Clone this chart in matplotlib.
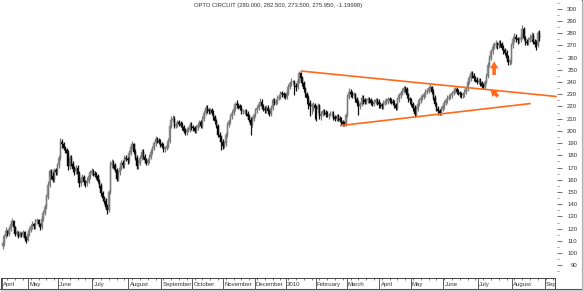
import matplotlib
matplotlib.use("Agg")
import matplotlib.pyplot as plt
from matplotlib.lines import Line2D
import numpy as np

plt.rcParams['font.family'] = ['Liberation Sans', 'DejaVu Sans']

title = "OPTO CIRCUIT (280.000, 282.500, 273.500, 275.950, -1.19998)"
first_open = 106

# ---- daily closes / highs / lows, one list per month ----
apr09_c = [108,114,118,116,120,124,126,121,116,117,114,116,115,117,112,111,116]
apr09_h = [110,116,121,119,122,126,129,127,122,119,118,118,117,119,118,114,118]
apr09_l = [103,106,112,114,114,118,122,119,114,114,112,113,113,113,110,108,110]

may09_c = [119,122,124,122,126,127,124,121,128,133,138,146,156,167,163,160,168,166,172]
may09_h = [121,124,126,125,128,129,128,125,130,135,140,148,159,169,169,166,170,170,174]
may09_l = [114,117,120,120,120,124,122,119,120,126,131,136,144,154,161,158,158,164,164]

jun09_c = [178,191,189,186,184,182,171,178,173,169,167,170,165,157,160,162,158,157,159,163,166,167]
jun09_h = [180,194,193,191,188,186,184,180,180,175,171,172,172,167,162,165,164,160,162,165,168,170]
jun09_l = [170,176,186,184,182,179,168,169,171,166,164,165,163,154,155,158,156,154,155,157,161,164]

jul09_c = [165,164,163,159,155,149,145,143,138,135,150,172,174,172,168,161,166,170,174,172,178,177,176]
jul09_h = [169,167,166,165,161,157,151,147,145,140,152,175,177,176,174,170,168,172,176,176,180,180,179]
jul09_l = [163,162,161,157,153,147,143,140,136,132,134,148,170,170,166,159,159,164,168,170,170,175,173]

aug09_c = [182,187,189,183,178,171,174,178,183,179,176,174,176,179,183,186,190,193,192,191,189]
aug09_h = [184,189,192,190,185,180,176,180,185,185,181,178,178,181,185,188,192,196,195,194,193]
aug09_l = [174,180,185,181,176,169,169,172,176,177,174,172,172,174,177,181,184,188,190,189,187]

sep09_c = [188,185,186,188,192,204,209,210,204,205,207,206,205,203,200,199,201,201,205,203]
sep09_h = [191,190,188,190,194,206,212,213,212,207,209,209,208,207,205,202,203,203,207,207]
sep09_l = [186,183,183,184,186,190,202,207,202,202,203,204,203,201,198,197,197,199,199,201]

oct09_c = [202,200,203,205,207,204,210,215,219,217,216,217,215,211,208,204,197,195,191,188]
oct09_h = [205,204,205,207,209,209,212,217,221,221,219,219,219,217,213,210,206,199,197,193]
oct09_l = [200,198,198,201,203,202,202,208,213,215,214,214,213,209,206,202,195,192,184,185]

nov09_c = [190,197,205,208,212,215,218,222,221,220,219,216,216,216,214,212,209,205,210,213]
nov09_h = [192,199,207,210,214,217,220,224,225,223,222,221,218,218,218,216,214,211,212,215]
nov09_l = [186,188,195,203,206,210,213,216,219,218,217,214,214,214,212,210,207,197,203,208]

dec09_c = [217,219,222,224,220,218,217,219,216,214,219,225,223,224,227,228,231,230,229,228]
dec09_h = [219,221,224,227,226,222,220,221,221,218,221,227,227,226,229,230,233,233,232,231]
dec09_l = [211,215,217,220,218,216,215,215,214,212,212,217,221,221,222,225,226,228,227,226]

jan10_c = [231,236,239,240,240,237,236,241,247,243,239,234,230,227,223,220,221,221,219]
jan10_h = [233,238,241,243,242,242,239,243,249,248,245,241,236,232,229,225,223,224,223]
jan10_l = [226,229,234,237,238,229,233,234,239,241,237,232,228,222,218,212,214,216,210]

feb10_c = [218,220,212,214,216,215,214,213,213,214,214,211,210,212,210,209,207,206,205,213]
feb10_h = [221,223,222,216,218,218,217,216,215,216,216,216,213,214,214,212,211,209,208,215]
feb10_l = [208,215,210,209,212,213,211,211,210,212,211,209,208,208,208,207,205,204,204,204]

mar10_c = [228,232,230,229,230,226,223,220,222,227,225,224,225,226,225,223,222,224,225,224,222]
mar10_h = [230,235,234,233,232,231,228,225,224,229,229,227,227,228,228,227,225,226,227,227,226]
mar10_l = [211,226,228,227,227,224,220,213,218,220,222,222,222,223,223,221,220,220,222,221,219]

apr10_c = [221,220,223,224,224,226,225,224,223,221,219,226,229,231,233,235,234,229,226,225]
apr10_h = [224,223,225,226,227,228,228,227,226,225,223,228,231,233,235,237,237,236,231,228]
apr10_l = [219,218,218,221,222,222,223,222,221,219,217,217,224,227,229,231,232,227,224,222]

may10_c = [222,219,214,218,222,225,227,228,230,232,233,235,236,232,227,222,218,216,215,218,220]
may10_h = [227,224,221,220,224,227,229,230,232,234,235,237,238,237,234,229,224,220,218,220,222]
may10_l = [220,216,211,212,216,220,223,225,226,228,230,231,233,230,225,220,216,213,213,213,216]

jun10_c = [223,225,227,228,229,231,233,234,232,231,230,229,230,232,235,240,243,247,245,243,242,240]
jun10_h = [225,227,229,230,231,233,235,236,236,234,233,232,232,234,237,242,246,249,249,247,245,244]
jun10_l = [218,221,223,225,226,227,229,231,230,229,228,227,227,228,230,233,238,241,243,241,240,238]

jul10_c = [241,239,237,236,240,245,254,260,265,269,271,271,270,272,271,268,266,264,260,256,257,270]
jul10_h = [243,243,241,239,242,247,256,262,267,271,273,274,273,274,274,273,270,268,266,262,259,272]
jul10_l = [238,237,235,234,234,238,243,252,258,263,267,268,267,268,269,266,263,262,258,254,254,255]

aug10_c = [275,277,275,274,275,276,283,276,273,272,274,276,278,273,271,270,280,275.95]
aug10_h = [278,280,279,277,277,279,287,285,278,275,277,279,281,280,275,274,282,282.5]
aug10_l = [268,273,273,271,272,273,275,274,270,270,270,273,275,271,269,266,269,273.5]

month_labels = ["April", "May", "June", "July", "August", "September", "October",
                "November", "December", "2010", "February", "March", "April", "May",
                "June", "July", "August", "September"]
# trading days per month on the axis (last month only partly filled with data)
month_days = [17, 19, 22, 23, 21, 20, 20, 20, 20, 19, 20, 21, 20, 21, 22, 22, 21, 8]

closes = (apr09_c + may09_c + jun09_c + jul09_c + aug09_c + sep09_c + oct09_c + nov09_c +
          dec09_c + jan10_c + feb10_c + mar10_c + apr10_c + may10_c + jun10_c + jul10_c + aug10_c)
highs = (apr09_h + may09_h + jun09_h + jul09_h + aug09_h + sep09_h + oct09_h + nov09_h +
         dec09_h + jan10_h + feb10_h + mar10_h + apr10_h + may10_h + jun10_h + jul10_h + aug10_h)
lows = (apr09_l + may09_l + jun09_l + jul09_l + aug09_l + sep09_l + oct09_l + nov09_l +
        dec09_l + jan10_l + feb10_l + mar10_l + apr10_l + may10_l + jun10_l + jul10_l + aug10_l)

# trend lines and arrows (bar index, price)
upper_trend = [(191.0, 249.0), (355.2, 228.1)]
lower_trend = [(216.2, 204.3), (338.5, 222.4)]
up_arrow = [(315.0, 245.7), (315.0, 256.8)]
diag_arrow = [(317.4, 228.2), (312.6, 234.2)]

# ---------------------------------------------------------------
W, H = 584, 292
fig = plt.figure(figsize=(W / 100, H / 100), dpi=100)
fig.patch.set_facecolor("white")

ax_left = 1 / W
ax_w = 556 / W
ax = fig.add_axes([ax_left, 1 - 278 / H, ax_w, 278 / H])

c = np.array(closes, dtype=float)
h = np.array(highs, dtype=float)
l = np.array(lows, dtype=float)
o = np.concatenate([[first_open], c[:-1]])
x = np.arange(len(c))
up = c >= o

ax.vlines(x[up], l[up], h[up], colors="#7a7a7a", lw=0.9)
ax.vlines(x[~up], l[~up], h[~up], colors="#111111", lw=0.9)
ax.bar(x[up], c[up] - o[up], bottom=o[up], width=1.0, color="#9c9c9c",
       edgecolor="#7a7a7a", linewidth=0.3)
ax.bar(x[~up], c[~up] - o[~up], bottom=o[~up], width=1.0, color="#000000",
       edgecolor="#000000", linewidth=0.3)

orange = "#ff6a1a"
ax.plot([p[0] for p in upper_trend], [p[1] for p in upper_trend], color=orange, lw=1.2,
        solid_capstyle="butt")
ax.plot([p[0] for p in lower_trend], [p[1] for p in lower_trend], color=orange, lw=1.2,
        solid_capstyle="butt")
for arr in (up_arrow, diag_arrow):
    ax.annotate("", xy=arr[1], xytext=arr[0],
                arrowprops=dict(arrowstyle="simple,head_width=0.6,head_length=0.5,tail_width=0.25",
                                color=orange, lw=0, mutation_scale=10, shrinkA=0, shrinkB=0))

xmin, xmax = -1.1, 355.3
ax.set_xlim(xmin, xmax)
ax.set_ylim(79.6, 307.1)
for s in ax.spines.values():
    s.set_visible(False)
ax.set_xticks([])
ax.yaxis.tick_right()
ax.set_yticks(np.arange(90, 301, 10))
ax.set_yticks(np.arange(85, 306, 5), minor=True)
ax.tick_params(axis="y", which="major", length=3.6, width=0.6, color="#555555",
               labelsize=4.3, labelcolor="#333333", pad=11)
ax.tick_params(axis="y", which="minor", length=1.3, width=0.5, color="#777777")
for lab in ax.get_yticklabels():
    lab.set_horizontalalignment("right")

# date strip
ax2 = fig.add_axes([ax_left, 1 - 289 / H, 554 / W, 11 / H])
ax2.set_xlim(xmin, xmin + (xmax - xmin) * 554 / 556)
ax2.set_ylim(0, 1)
for s in ax2.spines.values():
    s.set_color("#444444")
    s.set_linewidth(0.7)
ax2.set_yticks([])
starts = np.concatenate([[0], np.cumsum(month_days)[:-1]])
ax2.set_xticks(np.arange(3, 355, 5))
ax2.xaxis.set_ticks_position("top")
ax2.tick_params(axis="x", direction="in", length=1.6, width=0.5, color="#444444",
                labeltop=False, labelbottom=False)
for st, lab in zip(starts, month_labels):
    ax2.axvline(st - 0.5, color="#444444", lw=0.6)
    ax2.text(st + 0.3, 0.45, lab, fontsize=4.3, color="#333333", ha="left", va="center",
             clip_on=True)

fig.text(278 / W, 1 - 6 / H, title, fontsize=4.2, color="#333333", ha="center", va="center")

# outer frame with shadow
fig.add_artist(Line2D([581.5 / W, 581.5 / W], [1, 1 - 289 / H], transform=fig.transFigure,
                      color="#555555", lw=0.8))
fig.add_artist(Line2D([0, 581.5 / W], [1 - 289 / H, 1 - 289 / H], transform=fig.transFigure,
                      color="#555555", lw=0.8))
fig.add_artist(Line2D([583 / W, 583 / W], [1 - 2 / H, 1 - 291 / H], transform=fig.transFigure,
                      color="#c8c8c8", lw=1.2))
fig.add_artist(Line2D([2 / W, 583 / W], [1 - 290.8 / H, 1 - 290.8 / H], transform=fig.transFigure,
                      color="#c8c8c8", lw=1.2))

fig.savefig("out.png", dpi=100)
